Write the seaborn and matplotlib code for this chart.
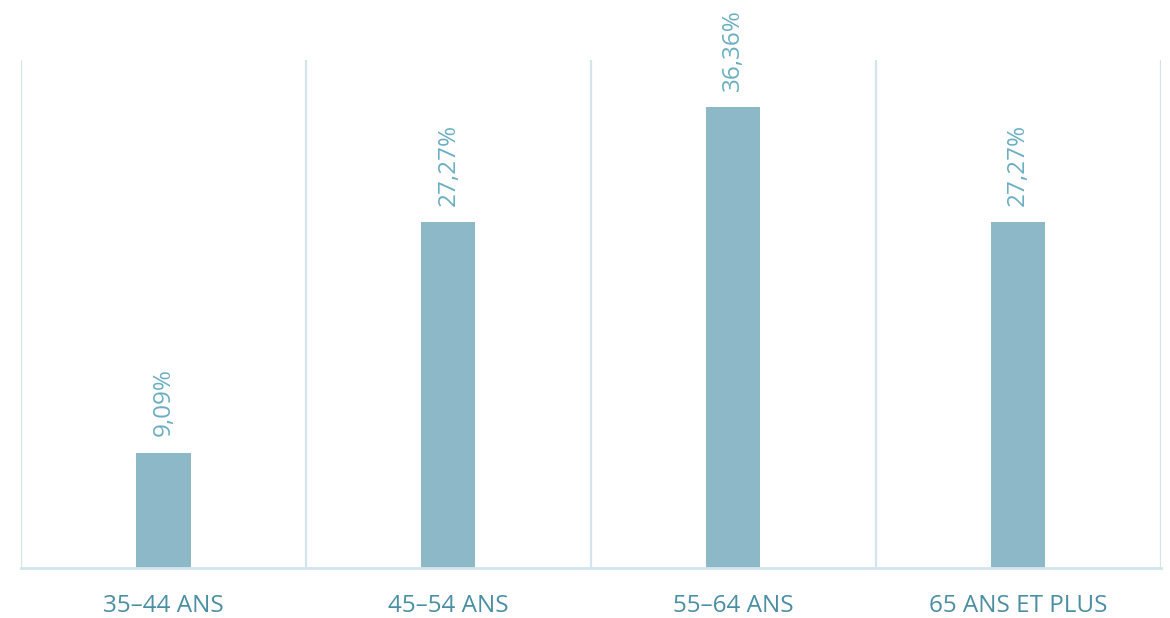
import matplotlib
matplotlib.use("Agg")
import matplotlib.pyplot as plt
import seaborn as sns
import pandas as pd

categories = ["35–44 ANS", "45–54 ANS", "55–64 ANS", "65 ANS ET PLUS"]
values = [9.09, 27.27, 36.36, 27.27]
value_labels = ["9,09%", "27,27%", "36,36%", "27,27%"]

BAR = "#8cb8c8"
LINE = "#d3e5ec"
TICK_TXT = "#4a8ea3"
VAL_TXT = "#6aaec2"

sns.set_theme(style="white")
plt.rcParams["font.family"] = ["Open Sans", "DejaVu Sans"]

df = pd.DataFrame({"cat": categories, "val": values})

fig = plt.figure(figsize=(11.7, 6.18), dpi=100)
ax = fig.add_axes([0.018, 0.081, 0.974, 0.822])

sns.barplot(data=df, x="cat", y="val", color=BAR, width=0.19,
            saturation=1, linewidth=0, ax=ax)

ax.set_xlim(-0.5, len(categories) - 0.5)
ax.set_ylim(0, 40.1)

for sp in ["top", "left", "right"]:
    ax.spines[sp].set_visible(False)
ax.spines["bottom"].set_color(LINE)
ax.spines["bottom"].set_linewidth(2)

# vertical separators between the age groups
for xpos in [i - 0.5 for i in range(len(categories) + 1)]:
    ax.axvline(xpos, color=LINE, lw=1.6, zorder=0)

ax.set_yticks([])
ax.set_xlabel("")
ax.set_ylabel("")
ax.tick_params(axis="x", length=0, pad=18.5)
for lbl in ax.get_xticklabels():
    lbl.set_color(TICK_TXT)
    lbl.set_fontsize(17.5)

for i, (v, t) in enumerate(zip(values, value_labels)):
    ax.annotate(t, xy=(i, v), xytext=(0, 12), textcoords="offset points",
                rotation=90, ha="center", va="bottom",
                color=VAL_TXT, fontsize=17.5)

fig.savefig("out.png", dpi=100, facecolor="white")
